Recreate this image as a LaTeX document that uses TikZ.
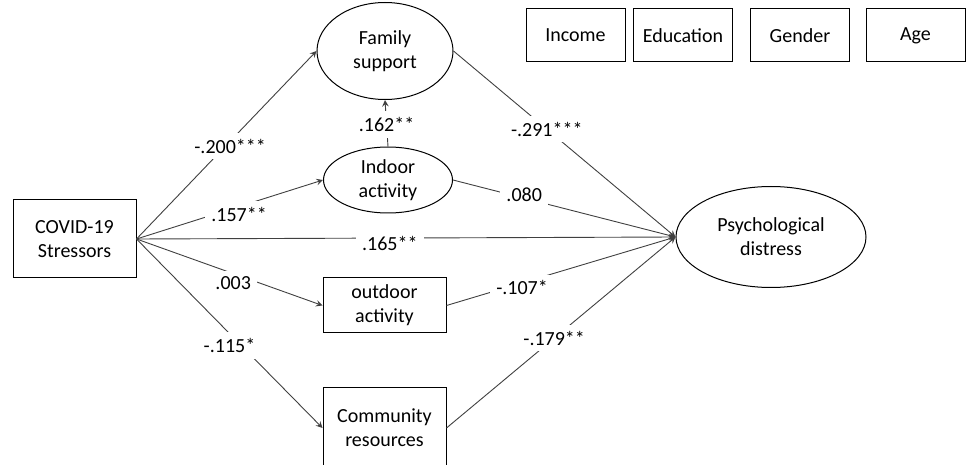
\documentclass[tikz,border=0pt]{standalone}
\usepackage{fontspec}
\setmainfont{Carlito}
\usetikzlibrary{shapes.geometric}

\tikzset{%
  every box/.style={
    rectangle,
    draw,
    line width=0.5pt,
    align=center,
    inner sep=0pt,
    minimum width=61.5pt
  },
  every latent/.style={
    ellipse,
    draw,
    line width=0.5pt,
    align=center,
    inner sep=0pt
  },
  every coef/.style={
    fill=white,
    text=black,
    inner sep=3pt
  },
  every path line/.style={
    draw=black!75,
    line width=0.45pt
  },
}

\begin{document}
\begin{tikzpicture}[x=0.5pt, y=-0.5pt, >=stealth, font=\fontsize{10}{12}\selectfont]
\useasboundingbox (0,0) rectangle (966,465);

\node [every box, minimum height=39pt] (stressors) at (74.5,239) {COVID-19\\Stressors};

\node [every latent, minimum width=68pt, minimum height=48.5pt] (family) at (385,51) {Family\\support};
\node [every latent, minimum width=64.5pt, minimum height=33pt] (indoor) at (388,180) {Indoor\\activity};
\node [every box, minimum height=27.5pt] (outdoor) at (384.5,305.5) {outdoor\\activity};
\node [every box, minimum height=40pt] (community) at (384.5,428) {Community\\resources};

\node [every latent, minimum width=95pt, minimum height=50.5pt] (distress) at (771,237) {Psychological\\distress};

\foreach \l/\x in {Income/575.5, Education/683, Gender/800, Age/915.5}
  \node [every box, minimum width=49.5pt, minimum height=26.5pt] (cov-\l) at (\x,35.5) {\l};

\foreach \t/\c/\p/\dy in {family/-.200***/0.52/-2.5, indoor/.157**/0.55/-4,
                          distress/.165**/0.47/-2.5, outdoor/.003/0.52/-5,
                          community/-.115*/0.5/-6}
  \draw [every path line, ->] (stressors.east) -- (\t.west)
    node [every coef, pos=\p, yshift=\dy pt] {\c};

\foreach \s/\c/\p/\dy in {family/-.291***/0.42/0, indoor/.080/0.32/1.5,
                          outdoor/-.107*/0.33/-2.5, community/-.179**/0.47/0}
  \draw [every path line, ->] (\s.east) -- (distress.west)
    node [every coef, pos=\p, yshift=\dy pt] {\c};

\draw [every path line, ->] (indoor.north) -- (family.south)
  node [every coef, pos=0.47] {.162**};

\end{tikzpicture}
\end{document}
